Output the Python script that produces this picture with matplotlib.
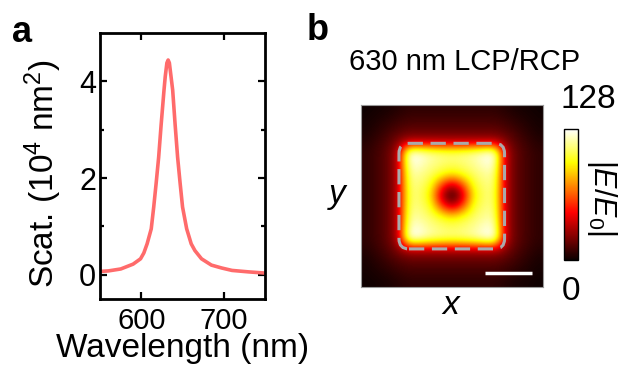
import numpy as np
import matplotlib
matplotlib.use('Agg')
import matplotlib.pyplot as plt
from matplotlib.patches import FancyBboxPatch

plt.rcParams['font.family'] = ['Liberation Sans', 'DejaVu Sans']
plt.rcParams['mathtext.fontset'] = 'custom'
plt.rcParams['mathtext.rm'] = 'Liberation Sans'
plt.rcParams['mathtext.it'] = 'Liberation Sans:italic'

# scattering spectrum
wavelength = [550, 560, 575, 590, 599, 603, 607, 612, 615, 618, 621, 624, 627.5, 629,
              631, 632.5, 634, 636, 638, 641, 644, 647, 650, 655, 660.5, 665, 673,
              685, 697.5, 710, 730, 750]
scat = [0.07, 0.08, 0.12, 0.22, 0.33, 0.45, 0.64, 0.95, 1.40, 1.90, 2.43, 3.10, 3.82, 4.10,
        4.38, 4.44, 4.38, 4.10, 3.82, 3.10, 2.43, 1.90, 1.40, 0.95, 0.64, 0.50, 0.33,
        0.20, 0.14, 0.09, 0.06, 0.035]

# |E/E0| field map at 630 nm, sampled on a 17x17 grid
field = np.array([
    [1, 2, 3, 5, 7, 7, 7, 7, 7, 7, 7, 7, 7, 5, 3, 2, 1],
    [2, 4, 6, 9, 11, 11, 11, 11, 11, 11, 11, 11, 11, 9, 6, 4, 2],
    [3, 6, 10, 14, 17, 17, 17, 17, 17, 17, 17, 17, 17, 14, 10, 6, 3],
    [5, 9, 14, 24, 33, 33, 33, 33, 33, 33, 33, 33, 33, 24, 14, 9, 5],
    [7, 11, 17, 33, 128, 124, 116, 112, 110, 112, 116, 124, 128, 33, 17, 11, 7],
    [7, 11, 17, 33, 124, 122, 114, 110, 108, 110, 114, 122, 124, 33, 17, 11, 7],
    [7, 11, 17, 33, 116, 114, 108, 100, 92, 100, 108, 114, 116, 33, 17, 11, 7],
    [7, 11, 17, 33, 112, 110, 100, 60, 34, 60, 100, 110, 112, 33, 17, 11, 7],
    [7, 11, 17, 33, 110, 108, 92, 34, 0, 34, 92, 108, 110, 33, 17, 11, 7],
    [7, 11, 17, 33, 112, 110, 100, 60, 34, 60, 100, 110, 112, 33, 17, 11, 7],
    [7, 11, 17, 33, 116, 114, 108, 100, 92, 100, 108, 114, 116, 33, 17, 11, 7],
    [7, 11, 17, 33, 124, 122, 114, 110, 108, 110, 114, 122, 124, 33, 17, 11, 7],
    [7, 11, 17, 33, 128, 124, 116, 112, 110, 112, 116, 124, 128, 33, 17, 11, 7],
    [5, 9, 14, 24, 33, 33, 33, 33, 33, 33, 33, 33, 33, 24, 14, 9, 5],
    [3, 6, 10, 14, 17, 17, 17, 17, 17, 17, 17, 17, 17, 14, 10, 6, 3],
    [2, 4, 6, 9, 11, 11, 11, 11, 11, 11, 11, 11, 11, 9, 6, 4, 2],
    [1, 2, 3, 5, 7, 7, 7, 7, 7, 7, 7, 7, 7, 5, 3, 2, 1],
])
field_max = 128

fig = plt.figure(figsize=(6.22, 3.70), dpi=100)

# panel a
ax = fig.add_axes([0.161, 0.192, 0.265, 0.719])
ax.plot(wavelength, scat, color='#ff6b6b', linewidth=2.6)
ax.set_xlim(550, 750)
ax.set_ylim(-0.5, 5)
ax.set_xticks([600, 700])
ax.set_yticks([0, 2, 4])
ax.set_yticks([1, 3], minor=True)
ax.tick_params(axis='both', which='both', direction='in', top=True, right=True,
               width=1.6, labelsize=22)
ax.tick_params(which='major', length=5)
ax.tick_params(which='minor', length=3)
ax.tick_params(axis='x', pad=6, labelsize=21)
ax.tick_params(axis='y', pad=3)
for s in ax.spines.values():
    s.set_linewidth(2)
ax.set_xlabel('Wavelength (nm)', fontsize=24, labelpad=-2)
ax.set_ylabel('Scat. (10$^4$ nm$^2$)', fontsize=24)
ax.yaxis.set_label_coords(-0.22, 0.47)

# panel b
ax2 = fig.add_axes([0.580, 0.224, 0.2926, 0.4919])
im = ax2.imshow(field, cmap='hot', vmin=0, vmax=field_max, extent=[-1, 1, -1, 1],
                interpolation='bicubic', aspect='auto')
ax2.add_patch(FancyBboxPatch((-0.47, -0.47), 0.94, 0.94,
                             boxstyle='round,pad=0.11', fill=False,
                             edgecolor='#aaaaaa', linewidth=2.2,
                             linestyle=(0, (5, 2.5))))
ax2.plot([0.37, 0.88], [-0.85, -0.85], color='white', linewidth=2.5,
         solid_capstyle='butt')
ax2.set_xticks([])
ax2.set_yticks([])
for s in ax2.spines.values():
    s.set_color('#999999')
    s.set_linewidth(0.8)
ax2.set_xlabel('$x$', fontsize=24, labelpad=2)
ax2.set_ylabel('$y$', fontsize=24, rotation=0, labelpad=16, va='center')

cax = fig.add_axes([0.907, 0.297, 0.0225, 0.354])
cb = fig.colorbar(im, cax=cax)
cb.set_ticks([])
cb.outline.set_linewidth(1.0)

fig.text(588 / 622, 1 - 99 / 370, '128', fontsize=24, ha='center', va='center')
fig.text(571 / 622, 1 - 292 / 370, '0', fontsize=24, ha='center', va='center')
fig.text(602 / 622, 1 - 198 / 370, '$|E/E_0|$', fontsize=22, rotation=-90,
         ha='center', va='center')
fig.text(465 / 622, 1 - 62 / 370, '630 nm LCP/RCP', fontsize=21, ha='center', va='center')

fig.text(22 / 622, 1 - 33 / 370, 'a', fontsize=26, fontweight='bold', ha='center', va='center')
fig.text(318 / 622, 1 - 31 / 370, 'b', fontsize=26, fontweight='bold', ha='center', va='center')

fig.savefig('out.png', dpi=100)
